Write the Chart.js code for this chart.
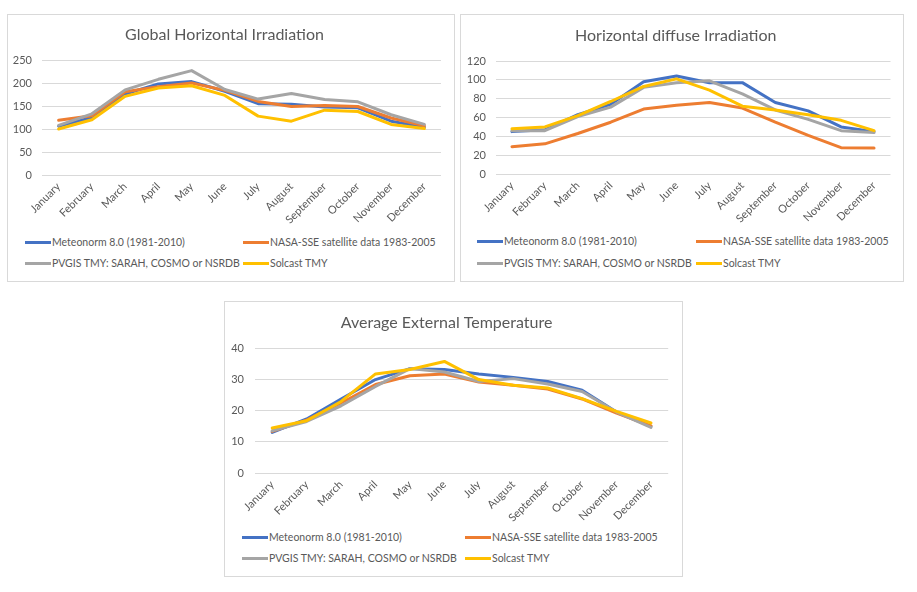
<!DOCTYPE html>
<html><head><meta charset="utf-8">
<script src="https://cdn.jsdelivr.net/npm/chart.js@4.4.1/dist/chart.umd.min.js"></script>
<style>
body{margin:0;background:#fff;width:917px;height:592px;position:relative;overflow:hidden;font-family:Lato, sans-serif;}
.box{position:absolute;border:1px solid #d9d9d9;background:#fff;box-sizing:border-box;}
.box canvas{position:absolute;left:0;top:0;}
.item{position:absolute;white-space:nowrap;display:flex;align-items:center;height:16px;font-size:10.5px;color:#595959;}
.swatch{display:inline-block;width:26px;height:3px;margin-right:1px;}
</style></head><body>
<div class="box" id="b1" style="left:7px;top:14px;width:448px;height:268px"><canvas></canvas></div>
<div class="box" id="b2" style="left:460px;top:14px;width:444px;height:268px"><canvas></canvas></div>
<div class="box" id="b3" style="left:224px;top:301px;width:459px;height:276px"><canvas></canvas></div>
<script>
const months = ['January','February','March','April','May','June','July','August','September','October','November','December'];
const seriesNames = ['Meteonorm 8.0 (1981-2010)','NASA-SSE satellite data 1983-2005','PVGIS TMY: SARAH, COSMO or NSRDB','Solcast TMY'];
const seriesColors = ['#4472C4','#ED7D31','#A5A5A5','#FFC000'];

// Global Horizontal Irradiation
const ghiMeteonorm = [106,125,176,198,203,182,155,154,148,146,117,104];
const ghiNasa      = [119,129,181,192,200,184,160,149,151,149,124,107];
const ghiPvgis     = [108,133,185,208,227,186,165,177,164,159,131,110];
const ghiSolcast   = [100,120,171,189,194,173,128,117,141,138,110,101];

// Horizontal diffuse Irradiation
const dhiMeteonorm = [45,47,63,74,98,104,97,97,76,67,50,45];
const dhiNasa      = [29,32,43,55,69,73,76,70,55,41,28,27.5];
const dhiPvgis     = [46,46,61,71,92,97,99,85,68,58,46,44];
const dhiSolcast   = [48,50,62,77,93,101,89,72,68,63,57,46];

// Average External Temperature
const tMeteonorm = [13.0,17.3,23.7,29.9,33.4,33.1,31.7,30.6,29.3,26.5,19.5,14.9];
const tNasa      = [13.3,16.9,22.4,28.3,31.1,31.7,29.1,28.1,26.9,23.7,19.2,15.1];
const tPvgis     = [13.5,16.5,21.5,27.7,33.4,32.3,29.3,30.2,28.5,26.1,19.5,14.6];
const tSolcast   = [14.4,16.7,22.9,31.7,33.1,35.7,29.9,28.1,27.2,23.8,19.7,16.0];

const ghiTicks = {max:250, step:50};
const dhiTicks = {max:120, step:20};
const tTicks   = {max:40, step:10};

function buildChart(cfg){
  const box = document.getElementById(cfg.box);
  const canvas = box.querySelector('canvas');
  canvas.width = cfg.cw; canvas.height = cfg.ch;
  canvas.style.width = cfg.cw+'px'; canvas.style.height = cfg.ch+'px';
  const txt = '#595959';
  new Chart(canvas, {
    type:'line',
    data:{labels:months, datasets: cfg.data.map((d,i)=>({
      label:seriesNames[i], data:d, borderColor:seriesColors[i], backgroundColor:seriesColors[i],
      borderWidth:3, pointRadius:0, tension:0, fill:false, order:3-i, borderJoinStyle:'round', borderCapStyle:'round'}))},
    options:{
      responsive:false, animation:false, devicePixelRatio:1,
      layout:{padding:{left:0,right:cfg.padR,top:0,bottom:0}},
      plugins:{
        legend:{display:false}, tooltip:{enabled:false},
        title:{display:true, text:cfg.title, color:txt, font:{family:'Lato', size:16, weight:'normal'}, padding:{top:cfg.tTop, bottom:cfg.tBot}}
      },
      scales:{
        x:{offset:true, grid:{display:false, drawTicks:false}, border:{display:false},
           ticks:{color:txt, font:{family:'Lato', size:11}, maxRotation:45, minRotation:45, autoSkip:false, padding:cfg.xPad},
           afterFit:s=>{s.height=cfg.xH;}},
        y:{min:0, max:cfg.ticks.max, grid:{color:'#d9d9d9', drawTicks:false, lineWidth:1}, border:{display:false},
           ticks:{stepSize:cfg.ticks.step, color:txt, font:{family:'Lato', size:11}, padding:cfg.yPad},
           afterFit:s=>{s.width=cfg.yW;}}
      }
    }
  });
  // HTML legend built from the series
  seriesNames.forEach((name,i)=>{
    const it = document.createElement('div');
    it.className='item';
    it.style.left = cfg.legX[i%2]+'px';
    it.style.top = (cfg.legY[Math.floor(i/2)]-8)+'px';
    const sw = document.createElement('span'); sw.className='swatch'; sw.style.background=seriesColors[i];
    const t = document.createElement('span'); t.textContent=name;
    it.appendChild(sw); it.appendChild(t);
    box.appendChild(it);
  });
}

buildChart({box:'b1', title:'Global Horizontal Irradiation', data:[ghiMeteonorm,ghiNasa,ghiPvgis,ghiSolcast], ticks:ghiTicks,
  cw:446, ch:215, padR:13, yW:34, xH:55, tTop:10.4, tBot:15.4, xPad:5, yPad:10, legX:[17,235], legY:[227,248]});
buildChart({box:'b2', title:'Horizontal diffuse Irradiation', data:[dhiMeteonorm,dhiNasa,dhiPvgis,dhiSolcast], ticks:dhiTicks,
  cw:442, ch:215, padR:12.5, yW:34.5, xH:56, tTop:10.9, tBot:15.9, xPad:5, yPad:9.5, legX:[16,235], legY:[226,248]});
buildChart({box:'b3', title:'Average External Temperature', data:[tMeteonorm,tNasa,tPvgis,tSolcast], ticks:tTicks,
  cw:457, ch:225, padR:13.8, yW:30, xH:54, tTop:10.9, tBot:15.9, xPad:5, yPad:11, legX:[17,240], legY:[235,256]});
</script>
</body></html>
